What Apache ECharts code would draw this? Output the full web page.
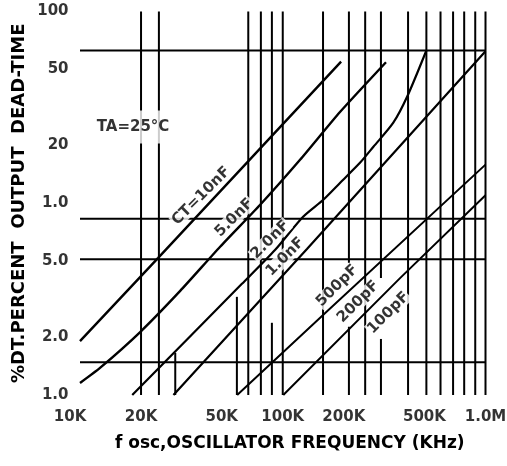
<!DOCTYPE html>
<html><head><meta charset="utf-8">
<script src="https://cdn.jsdelivr.net/npm/echarts@6/dist/echarts.min.js"></script>
<style>html,body{margin:0;padding:0;background:#fff}#c{width:507px;height:466px}</style>
</head><body><div id="c"></div>
<script>
// Tick values and labels
const xTickValues = [10, 20, 50, 100, 200, 500, 1000];
const xTickLabels = ['10K', '20K', '50K', '100K', '200K', '500K', '1.0M'];
const yTickValues = [1, 2, 5, 10, 20, 50, 100];
const yTickLabels = ['1.0', '2.0', '5.0', '1.0', '20', '50', '100'];

// Grid lines as printed on the sheet (kHz / %)
const hGridValues = [62.6, 8.3, 5.11, 1.48];
const vGridSegments = [
  [20, 1, 100], [24.5, 1, 100], [29.5, 1, 1.66], [59.4, 1, 3.25],
  [67.6, 1, 100], [78, 1, 100], [88.4, 1, 2.38], [88.4, 7.0, 100],
  [100, 1, 100], [158, 1, 100], [212, 1, 2.27], [212, 4.89, 100],
  [255, 1, 100], [305, 1, 1.96], [305, 4.08, 100], [415, 1, 100],
  [511, 1, 100], [600, 1, 100], [692, 1, 100], [785, 1, 100],
  [890, 1, 100], [1000, 1, 100]
];

// Curves: [fosc kHz, dead-time %]
const ct10nF = [[10, 1.91], [24.3, 5.19], [194, 54.8]];
const ct5nF = [[10, 1.155], [12.55, 1.384], [19.8, 2.13], [31.2, 3.49], [49.1, 5.93], [77.4, 9.82], [122, 16.9], [192, 30.0], [323, 54.4]];
const ct2nF = [[18.1, 1.0], [62.9, 3.80], [91.8, 5.72], [126, 8.50], [158, 10.4], [192, 12.8], [241, 16.3], [280, 19.7], [351, 26.3], [411, 36.0], [511, 62.6]];
const ct1nF = [[28.9, 1.0], [132, 5.79], [1000, 62]];
const ct500pF = [[59.6, 1.0], [162, 2.68], [1000, 15.9]];
const ct200pF = [[100.6, 1.0], [380, 4.08], [1000, 11.0]];

// Curve annotations: text and anchor (kHz, %)
const curveLabelTexts = ['CT=10nF', '5.0nF', '2.0nF', '1.0nF', '500pF', '200pF', '100pF'];
const curveLabelAnchors = [[39.6, 10.9], [57.6, 8.4], [86.8, 6.45], [102.9, 5.25], [185.8, 3.71], [235.9, 3.06], [331.9, 2.68]];
const noteText = 'TA=25°C';
const noteAnchor = [18.27, 25];

const FONT = 'DejaVu Sans';
const BLACK = '#000';

const series = [];
vGridSegments.forEach(s => series.push({
  type: 'line', data: [[s[0], s[1]], [s[0], s[2]]], symbol: 'none', clip: false, silent: true,
  lineStyle: { color: BLACK, width: 2 }, z: 1
}));
hGridValues.forEach(v => series.push({
  type: 'line', data: [[10, v], [1000, v]], symbol: 'none', clip: false, silent: true,
  lineStyle: { color: BLACK, width: 2 }, z: 1
}));
[[ct10nF, 2.4, 0], [ct5nF, 2.4, 0.2], [ct2nF, 2.2, 0.25], [ct1nF, 2.2, 0], [ct500pF, 2, 0], [ct200pF, 2, 0]].forEach(c => series.push({
  type: 'line', data: c[0], symbol: 'none', smooth: c[2], clip: true, silent: true,
  lineStyle: { color: BLACK, width: c[1] }, z: 2
}));

const hidden = { color: 'rgba(0,0,0,0)' };
// tick labels
series.push({
  type: 'scatter', symbolSize: 1, clip: false, silent: true, itemStyle: hidden, z: 5,
  data: yTickValues.map((v, i) => ({ name: yTickLabels[i], value: [10, v] })),
  label: { show: true, formatter: '{b}', position: 'left', distance: 11, color: BLACK, fontFamily: FONT, fontWeight: 'bold', fontSize: 15 }
});
series.push({
  type: 'scatter', symbolSize: 1, clip: false, silent: true, itemStyle: hidden, z: 5,
  data: xTickValues.map((v, i) => ({ name: xTickLabels[i], value: [v, 1], label: i === 0 ? { offset: [-10, 0] } : undefined })),
  label: { show: true, formatter: '{b}', position: 'bottom', distance: 14, color: BLACK, fontFamily: FONT, fontWeight: 'bold', fontSize: 15 }
});
// curve labels
series.push({
  type: 'scatter', symbolSize: 1, clip: false, silent: true, itemStyle: hidden, z: 6,
  data: curveLabelTexts.map((t, i) => ({ name: t, value: curveLabelAnchors[i] })),
  label: { show: true, formatter: '{b}', position: 'inside', rotate: 45, color: BLACK, fontFamily: FONT, fontWeight: 'bold', fontSize: 15, backgroundColor: '#fff', padding: [0, 1] }
});
series.push({
  type: 'scatter', symbolSize: 1, clip: false, silent: true, itemStyle: hidden, z: 6,
  data: [{ name: noteText, value: noteAnchor }],
  label: { show: true, formatter: '{b}', position: 'inside', color: BLACK, fontFamily: FONT, fontWeight: 'bold', fontSize: 15, backgroundColor: '#fff', padding: [9, 3] }
});

const chart = echarts.init(document.getElementById('c'), null, { renderer: 'canvas' });
chart.setOption({
  animation: false,
  backgroundColor: '#fff',
  grid: { left: 80, right: 21.5, top: 11.5, bottom: 71, containLabel: false },
  xAxis: {
    type: 'log', logBase: 10, min: 10, max: 1000,
    axisLine: { show: false }, axisTick: { show: false }, axisLabel: { show: false }, splitLine: { show: false },
    name: 'f osc,OSCILLATOR FREQUENCY (KHz)', nameLocation: 'middle', nameGap: 40,
    nameTextStyle: { color: BLACK, fontFamily: FONT, fontWeight: 'bold', fontSize: 17, padding: [0, 0, 0, 14] }
  },
  yAxis: {
    type: 'log', logBase: 10, min: 1, max: 100,
    axisLine: { show: false }, axisTick: { show: false }, axisLabel: { show: false }, splitLine: { show: false },
    name: '%DT.PERCENT  OUTPUT  DEAD-TIME', nameLocation: 'middle', nameGap: 52,
    nameTextStyle: { color: BLACK, fontFamily: FONT, fontWeight: 'bold', fontSize: 18 }
  },
  series: series
});
</script></body></html>
